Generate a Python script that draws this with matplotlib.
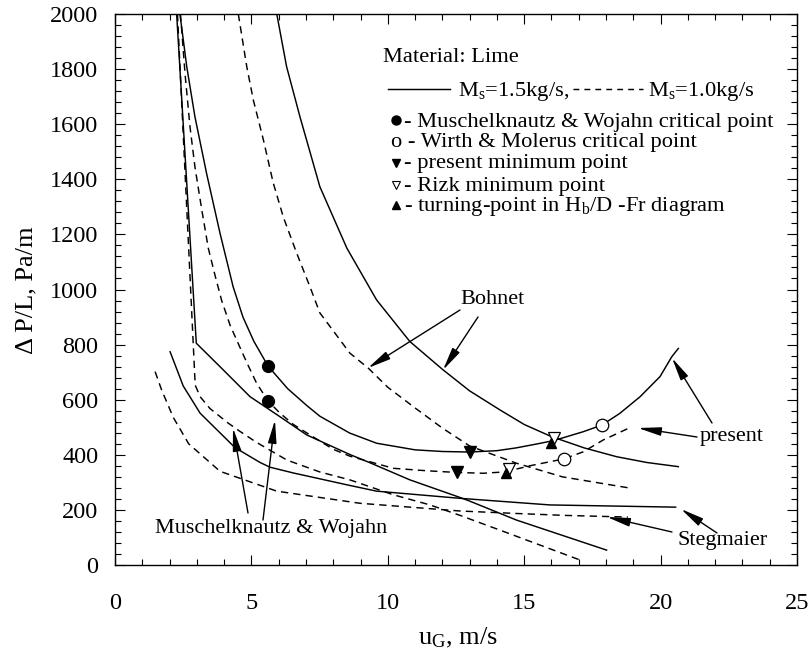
import matplotlib
matplotlib.use('Agg')
import matplotlib.pyplot as plt
from matplotlib.ticker import MultipleLocator
from matplotlib.lines import Line2D

plt.rcParams['font.family'] = ['Liberation Serif', 'DejaVu Serif']
plt.rcParams['mathtext.fontset'] = 'custom'
plt.rcParams['mathtext.rm'] = 'Liberation Serif'
plt.rcParams['mathtext.it'] = 'Liberation Serif:italic'

# ---------------- data (u_G in m/s, dP/L in Pa/m) ----------------
# Bohnet
bohnet15_u = [5.93, 6.29, 6.78, 7.51, 8.5, 9.59, 10.81, 12.03, 13.0, 14.11, 15.0, 16.0, 17.2, 18.39, 19.5, 20.65]
bohnet15_dp = [2000, 1809, 1627, 1373, 1150, 962, 811, 708, 632, 563, 510, 466, 425, 393, 372, 357]
bohnet10_u = [4.52, 4.83, 5.07, 5.44, 5.8, 6.17, 6.66, 7.15, 7.51, 8.61, 9.29, 10.0, 11.0, 12.0, 13.0, 14.7, 16.4, 18.95]
bohnet10_dp = [2000, 1809, 1688, 1543, 1387, 1263, 1132, 1009, 915, 769, 714, 645, 570, 497, 432, 370, 320, 278]

# present model
present15_u = [2.38, 2.63, 2.93, 3.36, 3.85, 4.33, 4.69, 5.09, 5.61, 6.33, 7.04, 7.51, 8.6, 9.59, 11.0, 12.0, 13.0,
               14.0, 14.7, 15.5, 16.0, 16.4, 17.17, 17.85, 18.5, 19.25, 19.98, 20.41, 20.65]
present15_dp = [2000, 1809, 1627, 1420, 1204, 1010, 900, 812, 722, 640, 578, 540, 479, 442, 418, 412, 410,
                415, 425, 440, 450, 461, 484, 508, 550, 611, 684, 756, 786]
present10_u = [2.40, 2.57, 2.75, 2.93, 3.18, 3.42, 3.67, 3.91, 4.22, 4.58, 4.83, 5.19, 5.61, 6.05, 6.54, 7.15,
               8.0, 8.61, 10.2, 11.43, 12.52, 13.5, 14.3, 15.2, 15.95, 16.45, 17.17, 17.9, 18.82]
present10_dp = [2000, 1780, 1590, 1445, 1290, 1150, 1050, 960, 870, 790, 735, 660, 595, 551, 510, 472,
                420, 395, 351, 342, 336, 333, 338, 360, 375, 385, 411, 454, 496]

# Muschelknautz & Wojahn
mw15_u = [2.26, 2.98, 3.97, 4.95, 6.05, 7.03, 8.61, 9.35, 10.81, 12.65, 13.0, 14.72, 18.02]
mw15_dp = [2000, 805, 708, 611, 538, 472, 401, 371, 309, 245, 232, 163, 54]
mw10_u = [2.29, 2.94, 3.12, 3.48, 4.15, 4.58, 5.19, 6.3, 7.5, 8.61, 10.2, 11.55, 12.65, 14.1, 17.05]
mw10_dp = [2000, 653, 611, 568, 515, 485, 445, 381, 338, 309, 255, 218, 180, 127, 18]

# Stegmaier
steg15_u = [2.02, 2.5, 3.12, 3.97, 4.4, 5.32, 5.68, 6.54, 8.55, 9.59, 12.65, 15.95, 20.55]
steg15_dp = [774, 650, 551, 468, 426, 372, 355, 334, 290, 268, 242, 218, 210]
steg10_u = [1.47, 1.71, 2.14, 2.7, 3.85, 5.93, 8.98, 12.65, 14.72, 16.5, 18.8]
steg10_dp = [702, 635, 535, 440, 340, 268, 224, 196, 187, 180, 174]

# characteristic points  [Ms=1.5, Ms=1.0]
mw_crit_u, mw_crit_dp = [5.61, 5.61], [722, 595]
wm_crit_u, wm_crit_dp = [17.84, 16.45], [508, 384]
pres_min_u, pres_min_dp = [13.01, 12.52], [411, 336]
rizk_min_u, rizk_min_dp = [16.09, 14.45], [460, 347]
turn_u, turn_dp = [16.0, 14.32], [444, 333]

xticks = [0, 5, 10, 15, 20, 25]
yticks = [0, 200, 400, 600, 800, 1000, 1200, 1400, 1600, 1800, 2000]

# ---------------- figure ----------------
W, H = 811, 653
fig = plt.figure(figsize=(W / 100, H / 100), dpi=100)
L, R, T, B = 115, 797, 14, 565
ax = fig.add_axes([L / W, (H - B) / H, (R - L) / W, (B - T) / H])

solid = dict(color='k', lw=1.05, ls='-')
dashed = dict(color='k', lw=1.05, ls=(0, (5, 3.5)))

ax.plot(bohnet15_u, bohnet15_dp, **solid)
ax.plot(bohnet10_u, bohnet10_dp, **dashed)
ax.plot(present15_u, present15_dp, **solid)
ax.plot(present10_u, present10_dp, **dashed)
ax.plot(mw15_u, mw15_dp, **solid)
ax.plot(mw10_u, mw10_dp, **dashed)
ax.plot(steg15_u, steg15_dp, **solid)
ax.plot(steg10_u, steg10_dp, **dashed)

ax.plot(mw_crit_u, mw_crit_dp, 'o', color='k', ms=8.5, ls='none', zorder=5)
ax.plot(wm_crit_u, wm_crit_dp, 'o', mfc='white', mec='k', mew=0.9, ms=9, ls='none', zorder=5)
ax.plot(pres_min_u, pres_min_dp, 'v', color='k', ms=8, ls='none', zorder=5)
ax.plot(rizk_min_u, rizk_min_dp, 'v', mfc='white', mec='k', mew=0.9, ms=8.5, ls='none', zorder=5)
ax.plot(turn_u, turn_dp, '^', color='k', ms=7.5, ls='none', zorder=6)

ax.set_xlim(0, 25)
ax.set_ylim(0, 2000)
ax.set_xticks(xticks)
ax.set_yticks(yticks)
ax.xaxis.set_minor_locator(MultipleLocator(1))
ax.yaxis.set_minor_locator(MultipleLocator(40))
ax.tick_params(which='both', direction='in', top=True, right=True, width=0.8)
ax.tick_params(which='major', length=7.5)
ax.tick_params(which='minor', length=4)
ax.tick_params(axis='x', which='major', labelsize=17.5, pad=20)
ax.tick_params(axis='y', which='major', labelsize=17.5, pad=12)
for s in ax.spines.values():
    s.set_linewidth(1.0)

fig.text(458 / W, 1 - 638 / H, 'u$_{\\rm G}$, m/s', ha='center', va='center', fontsize=19)
fig.text(26 / W, 1 - 290 / H, '\u0394 P/L, Pa/m', ha='center', va='center', rotation=90, fontsize=19)

# ---------------- labels with arrows ----------------
arr = dict(arrowstyle='-|>,head_length=0.7,head_width=0.13', color='k', lw=1.0,
           shrinkA=0, shrinkB=0, mutation_scale=20)

def u_of(px):
    return (px - L) / (R - L) * 25

def p_of(py):
    return (B - py) / (B - T) * 2000

ax.text(u_of(492), p_of(300), 'Bohnet', ha='center', va='center', fontsize=16)
ax.annotate('', xy=(u_of(368), p_of(368)), xytext=(u_of(460), p_of(310)), arrowprops=arr)
ax.annotate('', xy=(u_of(443), p_of(370)), xytext=(u_of(478), p_of(317)), arrowprops=arr)

ax.text(u_of(700), p_of(437), 'present', ha='left', va='center', fontsize=16)
ax.annotate('', xy=(u_of(672), p_of(358)), xytext=(u_of(712), p_of(423)), arrowprops=arr)
ax.annotate('', xy=(u_of(638), p_of(428)), xytext=(u_of(697), p_of(437)), arrowprops=arr)

ax.text(u_of(677), p_of(541), 'Stegmaier', ha='left', va='center', fontsize=16)
ax.annotate('', xy=(u_of(681), p_of(509)), xytext=(u_of(717), p_of(533)), arrowprops=arr)
ax.annotate('', xy=(u_of(607), p_of(517)), xytext=(u_of(672), p_of(532)), arrowprops=arr)

ax.text(u_of(271), p_of(528), 'Muschelknautz & Wojahn', ha='center', va='center', fontsize=16)
ax.annotate('', xy=(u_of(233), p_of(428)), xytext=(u_of(248), p_of(513)), arrowprops=arr)
ax.annotate('', xy=(u_of(275), p_of(420)), xytext=(u_of(263), p_of(520)), arrowprops=arr)

# ---------------- in-plot legend ----------------
def fx(px):
    return (px - L) / (R - L)

def fy(py):
    return (B - py) / (B - T)

tr = ax.transAxes
fs = 16.2
ax.text(fx(383), fy(62), 'Material: Lime', transform=tr, ha='left', va='baseline', fontsize=fs)
ax.add_line(Line2D([fx(388), fx(450)], [fy(89), fy(89)], transform=tr, **solid))
ax.text(fx(458), fy(96), 'M$_{\\rm s}$=1.5kg/s,', transform=tr, ha='left', va='baseline', fontsize=fs)
ax.add_line(Line2D([fx(573), fx(643)], [fy(89), fy(89)], transform=tr, color='k', lw=1.05, ls=(0, (4, 3.5))))
ax.text(fx(648), fy(96), 'M$_{\\rm s}$=1.0kg/s', transform=tr, ha='left', va='baseline', fontsize=fs)

ax.plot([fx(396)], [fy(120)], 'o', color='k', ms=6.5, transform=tr)
ax.text(fx(404), fy(127), '- Muschelknautz & Wojahn critical point', transform=tr, ha='left', va='baseline', fontsize=fs)
ax.text(fx(391), fy(147), 'o - Wirth & Molerus critical point', transform=tr, ha='left', va='baseline', fontsize=fs)
ax.plot([fx(396)], [fy(163)], 'v', color='k', ms=6, transform=tr)
ax.text(fx(404), fy(168), '- present minimum point', transform=tr, ha='left', va='baseline', fontsize=fs)
ax.plot([fx(396)], [fy(185)], 'v', mfc='white', mec='k', mew=0.8, ms=6, transform=tr)
ax.text(fx(404), fy(191), '- Rizk minimum point', transform=tr, ha='left', va='baseline', fontsize=fs)
ax.plot([fx(396)], [fy(205)], '^', color='k', ms=6, transform=tr)
ax.text(fx(404), fy(211), '- turning-point in H$_{\\rm b}$/D -Fr diagram', transform=tr, ha='left', va='baseline', fontsize=fs)

fig.savefig('out.png', dpi=100)
